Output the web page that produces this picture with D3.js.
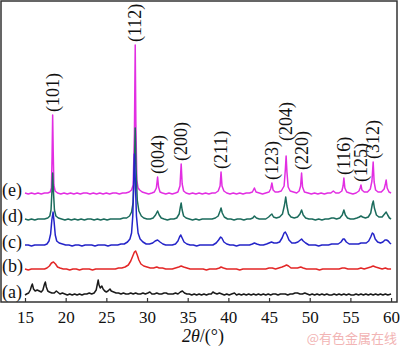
<!DOCTYPE html>
<html>
<head>
<meta charset="utf-8">
<script src="https://cdn.jsdelivr.net/npm/d3@7"></script>
<style>
  html, body { margin: 0; padding: 0; background: #fff; }
  svg { display: block; }
</style>
</head>
<body>
<svg id="chart" width="400" height="347"></svg>
<script>
// XRD patterns (a)-(e): [2θ (deg), intensity (a.u.) above each pattern's own baseline]
const scanA = [[15.0,1],[15.2,2],[15.45,3],[15.65,6],[15.8,10],[15.9,12],[16.05,7],[16.25,5],[16.5,6],[16.75,5],[17.0,4],[17.2,6],[17.4,12],[17.5,14],[17.62,9],[17.8,5],[18.0,4],[18.3,3],[18.6,3],[18.85,5],[19.0,4],[19.3,2],[19.6,3],[19.9,2],[20.2,1],[20.5,2],[20.8,1],[21.1,2],[21.4,1],[21.7,2],[22.0,1],[22.3,2],[22.6,2],[22.9,3],[23.2,2],[23.5,3],[23.75,6],[23.9,12],[24.0,16],[24.1,11],[24.25,8],[24.45,10],[24.6,7],[24.8,5],[25.0,4],[25.2,5],[25.45,7],[25.6,5],[25.9,4],[26.2,3],[26.5,3],[26.8,2],[27.1,3],[27.4,2],[27.7,2],[28.0,3],[28.3,2],[28.6,3],[28.9,2],[29.2,2],[29.5,3],[29.8,2],[30.1,3],[30.35,4],[30.6,2],[30.9,2],[31.2,3],[31.5,2],[31.8,2],[32.1,3],[32.35,3],[32.6,2],[32.9,2],[33.2,2],[33.5,3],[33.8,2],[34.1,4],[34.35,5],[34.6,3],[34.9,2],[35.2,2],[35.5,1],[35.8,2],[36.1,1],[36.4,2],[36.7,1],[37.0,2],[37.3,1],[37.6,2],[37.9,2],[38.1,4],[38.3,3],[38.6,2],[38.9,3],[39.2,2],[39.5,1],[39.8,2],[40.1,1],[40.4,2],[40.75,3],[41.0,1],[41.3,2],[41.6,1],[41.9,2],[42.2,1],[42.5,2],[42.8,1],[43.1,2],[43.4,1],[43.7,2],[44.0,1],[44.3,2],[44.6,1],[44.9,2],[45.2,1],[45.5,2],[45.8,2],[46.1,1],[46.4,2],[46.7,2],[47.0,2],[47.3,1],[47.6,2],[47.9,2],[48.2,3],[48.5,3],[48.8,2],[49.1,2],[49.4,3],[49.7,2],[50.0,1],[50.3,2],[50.6,1],[50.9,2],[51.2,1],[51.5,2],[51.8,1],[52.1,2],[52.4,1],[52.7,1],[53.0,2],[53.3,1],[53.6,2],[53.9,1],[54.2,2],[54.5,1],[54.8,2],[55.1,1],[55.4,1],[55.7,2],[56.0,1],[56.3,2],[56.6,1],[56.9,2],[57.2,1],[57.5,2],[57.8,1],[58.1,2],[58.4,1],[58.7,2],[59.0,1],[59.3,2],[59.6,1],[60.0,2]];

const scanB = [[15.0,1],[15.4,0],[15.8,1],[16.2,1],[16.6,1],[17.0,1],[17.4,1],[17.7,2],[18.0,4],[18.25,7],[18.5,8],[18.75,6],[19.0,3],[19.3,2],[19.7,1],[20.1,1],[20.5,0],[20.9,1],[21.3,1],[21.7,0],[22.1,1],[22.5,1],[22.9,1],[23.3,0],[23.7,1],[24.1,1],[24.5,1],[24.9,1],[25.3,1],[25.7,1],[26.1,1],[26.5,2],[26.9,2],[27.3,3],[27.7,5],[28.0,9],[28.25,14],[28.45,18],[28.6,19],[28.8,15],[29.0,10],[29.25,6],[29.6,4],[30.0,3],[30.4,2],[30.8,2],[31.2,3],[31.5,2],[31.9,2],[32.3,1],[32.7,1],[33.1,1],[33.5,2],[33.9,3],[34.2,4],[34.5,3],[34.9,2],[35.3,1],[35.7,1],[36.1,1],[36.5,1],[36.9,1],[37.3,0],[37.7,1],[38.1,1],[38.5,1],[38.9,2],[39.1,3],[39.4,2],[39.8,1],[40.2,1],[40.6,1],[41.0,1],[41.4,0],[41.8,1],[42.2,1],[42.6,1],[43.0,1],[43.4,1],[43.8,1],[44.2,1],[44.6,1],[45.0,2],[45.4,2],[45.8,1],[46.2,2],[46.6,3],[46.9,4],[47.15,5],[47.4,4],[47.7,2],[48.1,2],[48.5,2],[48.9,3],[49.2,2],[49.6,1],[50.0,1],[50.4,1],[50.8,1],[51.2,0],[51.6,1],[52.0,1],[52.4,1],[52.8,1],[53.2,1],[53.6,1],[54.0,2],[54.3,2],[54.7,1],[55.1,1],[55.5,1],[55.9,1],[56.3,2],[56.7,1],[57.1,2],[57.5,3],[57.8,4],[58.1,3],[58.5,2],[58.9,1],[59.3,2],[59.6,1],[60.0,1]];

const scanC = [[15.0,1],[15.4,1],[15.8,0],[16.2,1],[16.6,1],[17.0,1],[17.4,1],[17.7,2],[17.95,5],[18.15,12],[18.3,26],[18.45,34],[18.58,24],[18.72,11],[18.9,5],[19.2,3],[19.6,2],[20.0,1],[20.4,1],[20.8,0],[21.2,1],[21.6,1],[22.0,0],[22.4,1],[22.8,1],[23.2,1],[23.6,0],[24.0,1],[24.4,1],[24.8,1],[25.2,0],[25.6,1],[26.0,1],[26.4,1],[26.8,2],[27.2,2],[27.6,4],[27.9,7],[28.1,13],[28.25,30],[28.38,70],[28.45,92],[28.55,68],[28.7,30],[28.9,13],[29.15,7],[29.5,4],[29.9,2],[30.3,2],[30.7,3],[31.0,5],[31.3,6],[31.6,4],[31.95,2],[32.3,1],[32.7,1],[33.1,1],[33.5,2],[33.8,5],[34.0,9],[34.15,11],[34.32,8],[34.55,4],[34.9,2],[35.3,1],[35.7,1],[36.1,0],[36.5,1],[36.9,1],[37.3,1],[37.7,1],[38.1,1],[38.5,3],[38.8,6],[39.05,9],[39.2,8],[39.45,4],[39.8,2],[40.2,1],[40.6,1],[41.0,0],[41.4,1],[41.8,1],[42.2,1],[42.6,1],[42.95,2],[43.2,3],[43.5,2],[43.9,1],[44.3,1],[44.7,2],[45.0,3],[45.3,4],[45.6,3],[45.95,3],[46.3,4],[46.6,8],[46.85,13],[47.0,14],[47.2,11],[47.45,6],[47.8,3],[48.2,3],[48.55,4],[48.85,6],[49.0,7],[49.2,5],[49.5,3],[49.9,1],[50.3,1],[50.7,1],[51.1,0],[51.5,1],[51.9,1],[52.3,1],[52.7,2],[53.1,2],[53.5,2],[53.85,4],[54.1,7],[54.25,7],[54.5,4],[54.85,2],[55.2,2],[55.6,2],[56.0,2],[56.3,3],[56.6,3],[56.95,3],[57.25,5],[57.5,9],[57.7,13],[57.85,12],[58.05,7],[58.35,4],[58.7,3],[59.0,4],[59.25,6],[59.45,6],[59.65,5],[59.85,3],[60.0,2]];

const scanD = [[15.0,1],[15.4,0],[15.8,1],[16.2,0],[16.6,1],[17.0,1],[17.4,1],[17.8,2],[18.05,4],[18.2,10],[18.32,30],[18.4,47],[18.5,28],[18.62,10],[18.8,4],[19.1,2],[19.5,1],[19.9,0],[20.3,1],[20.7,0],[21.1,1],[21.5,0],[21.9,1],[22.3,0],[22.7,1],[23.1,1],[23.5,0],[23.9,1],[24.3,0],[24.7,1],[25.1,0],[25.5,1],[25.9,1],[26.3,1],[26.7,1],[27.1,2],[27.5,2],[27.85,4],[28.1,8],[28.3,18],[28.45,55],[28.55,92],[28.65,52],[28.8,20],[29.0,9],[29.3,4],[29.6,2],[30.0,1],[30.4,1],[30.75,2],[31.05,5],[31.3,9],[31.5,5],[31.75,2],[32.1,1],[32.5,0],[32.9,1],[33.3,1],[33.65,2],[33.95,6],[34.1,13],[34.2,17],[34.32,10],[34.5,4],[34.8,2],[35.2,1],[35.6,0],[36.0,1],[36.4,0],[36.8,1],[37.2,1],[37.6,1],[38.0,1],[38.4,2],[38.75,4],[38.98,9],[39.1,12],[39.25,7],[39.5,3],[39.9,1],[40.3,1],[40.7,0],[41.1,1],[41.5,1],[41.9,0],[42.3,1],[42.7,1],[43.0,2],[43.2,4],[43.45,2],[43.8,1],[44.2,1],[44.6,1],[44.95,3],[45.2,5],[45.35,6],[45.55,3],[45.9,2],[46.3,3],[46.65,6],[46.9,15],[47.05,23],[47.2,14],[47.4,6],[47.7,3],[48.1,2],[48.5,3],[48.8,6],[49.0,10],[49.2,5],[49.5,2],[49.9,1],[50.3,1],[50.7,0],[51.1,1],[51.5,0],[51.9,1],[52.3,1],[52.7,2],[52.95,2],[53.3,1],[53.7,2],[54.0,5],[54.2,10],[54.38,5],[54.65,2],[55.0,1],[55.4,1],[55.8,2],[56.1,3],[56.3,4],[56.5,3],[56.85,2],[57.2,3],[57.5,7],[57.7,16],[57.82,19],[57.95,12],[58.2,5],[58.5,3],[58.9,3],[59.2,6],[59.4,8],[59.58,5],[59.8,2],[60.0,1]];

const scanE = [[15.0,1],[15.4,0],[15.8,1],[16.2,0],[16.6,1],[17.0,0],[17.4,1],[17.8,1],[18.1,2],[18.25,6],[18.33,38],[18.4,79],[18.47,42],[18.55,9],[18.7,3],[19.0,1],[19.4,0],[19.8,1],[20.2,0],[20.6,1],[21.0,0],[21.4,1],[21.8,0],[22.2,1],[22.6,1],[23.0,0],[23.4,1],[23.8,0],[24.2,1],[24.6,0],[25.0,1],[25.4,0],[25.8,1],[26.2,1],[26.6,0],[27.0,1],[27.4,1],[27.8,2],[28.1,4],[28.3,9],[28.45,60],[28.55,149],[28.63,70],[28.75,14],[28.9,6],[29.1,4],[29.4,2],[29.8,1],[30.2,0],[30.6,1],[30.9,2],[31.15,6],[31.3,17],[31.42,7],[31.6,2],[31.9,1],[32.3,0],[32.7,1],[33.1,0],[33.5,1],[33.8,2],[34.05,8],[34.2,30],[34.32,10],[34.5,3],[34.8,1],[35.2,0],[35.6,1],[36.0,0],[36.4,1],[36.8,0],[37.2,1],[37.6,0],[38.0,1],[38.4,1],[38.75,3],[38.98,8],[39.1,22],[39.22,8],[39.45,3],[39.8,1],[40.2,0],[40.6,1],[41.0,0],[41.4,1],[41.8,0],[42.2,1],[42.6,1],[42.95,2],[43.2,6],[43.4,2],[43.8,1],[44.2,0],[44.6,1],[45.0,2],[45.2,5],[45.35,11],[45.5,4],[45.75,2],[46.1,2],[46.5,3],[46.85,8],[47.0,24],[47.1,38],[47.2,22],[47.35,7],[47.6,3],[48.0,2],[48.4,1],[48.7,3],[48.88,8],[49.0,21],[49.12,7],[49.35,2],[49.8,1],[50.2,0],[50.6,1],[51.0,0],[51.4,1],[51.8,0],[52.2,1],[52.6,1],[52.9,3],[53.2,1],[53.6,1],[53.95,3],[54.1,8],[54.2,16],[54.32,6],[54.55,2],[54.9,1],[55.3,0],[55.7,1],[56.05,3],[56.2,6],[56.3,9],[56.42,4],[56.7,2],[57.1,2],[57.45,5],[57.65,13],[57.8,32],[57.92,12],[58.1,4],[58.4,2],[58.8,2],[59.15,5],[59.3,10],[59.4,14],[59.52,6],[59.75,2],[60.0,1]];

const sampleLabels = ["(a)", "(b)", "(c)", "(d)", "(e)"];
const peakLabels = ["(101)", "(112)", "(004)", "(200)", "(211)", "(123)", "(204)", "(220)", "(116)", "(125)", "(312)"];
const peakAngles = [18.4, 28.55, 31.3, 34.2, 39.1, 45.35, 47.1, 49.0, 54.2, 56.3, 57.8];
const xTickValues = [15, 20, 25, 30, 35, 40, 45, 50, 55, 60];

// ---- layout & style ----
const frame = { left: 1, top: 1, right: 397, bottom: 302 };
const stackOffset = [6, 32, 56, 82, 108];      // vertical shift of each pattern (a.u.)
const colors = ["#1a1a1a", "#e32626", "#2424c8", "#1b6b5c", "#e22ee2"];
const serif = "'Liberation Serif', 'DejaVu Serif', serif";
const scans = [scanA, scanB, scanC, scanD, scanE];

const svg = d3.select("#chart");

const x = d3.scaleLinear().domain([12.05, 60.73]).range([frame.left, frame.right]);
const y = d3.scaleLinear().domain([0, 301]).range([frame.bottom, frame.top]);

// patterns, top pattern drawn first so lower ones overlay it
const line = d3.line().x(d => x(d[0])).y(d => y(d[1]));
const plot = svg.append("g");
for (let i = scans.length - 1; i >= 0; i--) {
  const off = stackOffset[i];
  plot.append("path")
    .datum(scans[i].map(d => [d[0], d[1] + off]))
    .attr("d", line)
    .attr("fill", "none")
    .attr("stroke", colors[i])
    .attr("stroke-width", 1.5)
    .attr("stroke-linejoin", "round");
}

// frame
svg.append("rect")
  .attr("x", frame.left).attr("y", frame.top)
  .attr("width", frame.right - frame.left).attr("height", frame.bottom - frame.top)
  .attr("fill", "none").attr("stroke", "#333").attr("stroke-width", 1.5);

// bottom axis with inward ticks
const xAxis = d3.axisBottom(x).tickValues(xTickValues).tickSizeInner(-4).tickSizeOuter(0).tickPadding(9);
const gx = svg.append("g").attr("transform", `translate(0,${frame.bottom})`).call(xAxis);
gx.select(".domain").remove();
gx.selectAll(".tick line").attr("stroke", "#333").attr("stroke-width", 1.2);
gx.selectAll(".tick text")
  .attr("font-family", serif).attr("font-size", 17).attr("fill", "#111");

// axis title
const title = svg.append("text")
  .attr("x", 203).attr("y", 342)
  .attr("text-anchor", "middle")
  .attr("font-family", serif).attr("font-size", 18).attr("fill", "#111");
title.append("tspan").attr("font-style", "italic").text("2θ");
title.append("tspan").text("/(°)");

// sample labels at the left end of each pattern
sampleLabels.forEach((t, i) => {
  svg.append("text")
    .attr("x", 2).attr("y", y(stackOffset[i]) + 2)
    .attr("font-family", serif).attr("font-size", 18).attr("fill", "#111")
    .text(t);
});

// Miller-index labels above the peaks of pattern (e)
const eOff = stackOffset[4];
const extraLift = { "(204)": 12 };
peakLabels.forEach((t, i) => {
  const a = peakAngles[i];
  const top = d3.max(scanE.filter(d => Math.abs(d[0] - a) < 0.2), d => d[1]);
  const px = x(a);
  const py = y(top + eOff) - 3 - (extraLift[t] || 0);
  svg.append("text")
    .attr("transform", `translate(${px},${py}) rotate(-90)`)
    .attr("dy", "0.34em")
    .attr("font-family", serif).attr("font-size", 18).attr("fill", "#111")
    .text(t);
});

// source mark
svg.append("text")
  .attr("x", 397).attr("y", 343).attr("text-anchor", "end")
  .attr("font-family", "'Noto Sans CJK SC', sans-serif").attr("font-size", 13)
  .attr("fill", "#f2b4b4")
  .text("@有色金属在线");
</script>
</body>
</html>
